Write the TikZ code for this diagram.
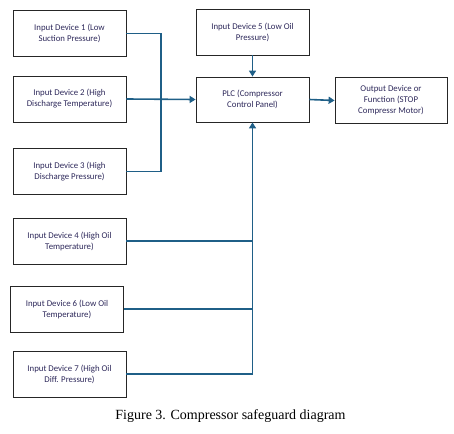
\documentclass[tikz,border=0pt]{standalone}
\usepackage{fontspec}
\setmainfont{Liberation Serif}
\newfontfamily\boxfont{Carlito}
\usepackage{xcolor}
\usetikzlibrary{arrows.meta}
\definecolor{linkblue}{RGB}{31,95,135}
\definecolor{textpurple}{RGB}{45,40,90}
\begin{document}
\begin{tikzpicture}[x=1pt,y=-1pt,
  block/.style={draw=black!85, line width=0.8pt, minimum width=113pt,
    minimum height=46pt, align=center, font=\boxfont\fontsize{8.8}{11}\selectfont,
    text=textpurple, inner sep=1pt},
  link/.style={draw=linkblue, line width=1.6pt},
  tip/.style={-{Triangle[length=6pt,width=7pt]}}]
\useasboundingbox (0,0) rectangle (454,433);
\def\xin{69.5}
\def\xbus{161}
%
\node[block] (d1) at (\xin,33.5) {Input Device 1 (Low\\Suction Pressure)};
\node[block] (d2) at (\xin,99) {Input Device 2 (High\\Discharge Temperature)};
\node[block] (d3) at (\xin,171.5) {Input Device 3 (High\\Discharge Pressure)};
\node[block] (d5) at (252.5,32) {Input Device 5 (Low Oil\\Pressure)};
\node[block, minimum height=45pt] (plc) at (252.5,99.5) {PLC (Compressor\\Control Panel)};
\node[block, minimum width=112pt] (out) at (391,100.5) {Output Device or\\Function (STOP\\Compressr Motor)};
\node[block] (d4) at (\xin,241) {Input Device 4 (High Oil\\Temperature)};
\node[block] (d6) at (67,309) {Input Device 6 (Low Oil\\Temperature)};
\node[block] (d7) at (\xin,374) {Input Device 7 (High Oil\\Diff. Pressure)};
%
\coordinate (bus) at (\xbus,99);
\draw[link] (d1.east) -| (bus) |- (d3.east);
\draw[link,tip] (d2.east) -- (plc.west);
\draw[link,tip] (d5.south) -- (plc.north);
\draw[link,tip] (plc.east) -- (out.west);
\draw[link,tip] (d7.east) -| (plc.south);
\draw[link] (d4.east) -- (d4.east -| plc.south);
\draw[link] (d6.east) -- (d6.east -| plc.south);
%
\node[font=\fontsize{14}{16}\selectfont] (cap) at (230.5,416) {Figure 3. Compressor safeguard diagram};
\end{tikzpicture}
\end{document}
